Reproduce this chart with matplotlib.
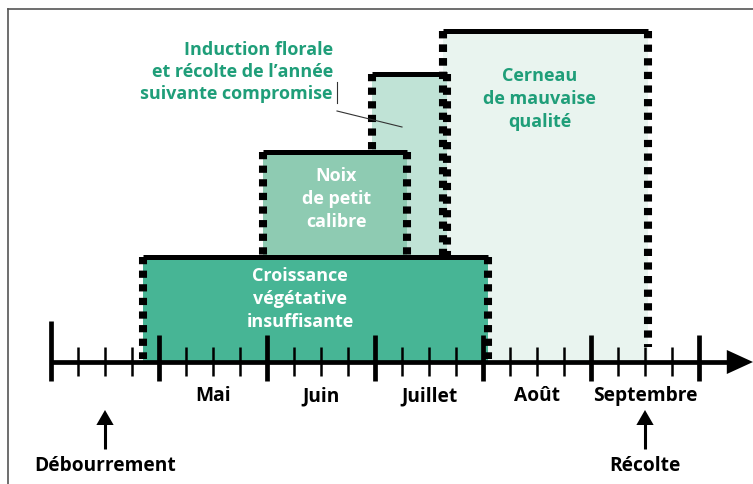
import matplotlib
matplotlib.use("Agg")
import matplotlib.pyplot as plt
from matplotlib.patches import Rectangle, Polygon
from matplotlib.lines import Line2D

plt.rcParams['lines.scale_dashes'] = False
FONT = ['Open Sans', 'DejaVu Sans']
FS = 13.8      # axis / event labels
FSB = 13.0     # box labels

# ---- data (x in weeks from 1 April; heights in arbitrary units) ----
months = ["Mai", "Juin", "Juillet", "Août", "Septembre"]
month_starts = [0, 4, 8, 12, 16, 20, 24]          # week positions of month boundaries
weeks_per_month = 4

box_labels = ["Cerneau\nde mauvaise\nqualité",
              "Induction florale\net récolte de l’année\nsuivante compromise",
              "Noix\nde petit\ncalibre",
              "Croissance\nvégétative\ninsuffisante"]
box_start = [14.5, 11.9, 7.85, 3.4]
box_end = [22.1, 14.65, 13.2, 16.2]
box_top = [331, 288, 210, 105]
box_colors = ["#e9f4ef", "#c0e3d6", "#8ecbb2", "#47b595"]

event_labels = ["Débourrement", "Récolte"]
event_weeks = [2, 22]

GREEN_TXT = "#1f9e79"

fig = plt.figure(figsize=(7.53, 4.85), dpi=100)
ax = fig.add_axes([0, 0, 1, 1])
ax.set_xlim(-51 / 27, (753 - 51) / 27)
ax.set_ylim(363 - 485, 363)
ax.axis("off")

# frame
fig.add_artist(Line2D([0.0105, 0.0105], [0, 1 - 10 / 485], transform=fig.transFigure,
                      color="#555555", lw=1.2))
fig.add_artist(Line2D([0.0105, 1], [1 - 10 / 485, 1 - 10 / 485], transform=fig.transFigure,
                      color="#555555", lw=1.2))

# boxes
side_bottom = [15, 0, 105, 3]
for i, (s, e, t, c) in enumerate(zip(box_start, box_end, box_top, box_colors)):
    z = 2 + i
    ax.add_patch(Rectangle((s, 0), e - s, t, facecolor=c, edgecolor="none", zorder=z))
    ax.plot([s, e], [t, t], color="black", lw=3.6, solid_capstyle="butt", zorder=z + 0.5)
    for xe in (s, e):
        ax.plot([xe, xe], [t, side_bottom[i]], color="black", lw=5.8,
                dashes=(5.2, 4.6), dash_capstyle="butt", zorder=z + 0.5)

# Cerneau left edge continues above Induction box
ax.plot([box_start[0], box_start[0]], [box_top[0], box_top[3]], color="black", lw=5.8,
        dashes=(5.2, 4.6), dash_capstyle="butt", zorder=3.6)

# box texts
tk = dict(fontsize=FSB, fontweight="bold", family=FONT, zorder=10)
ax.text(18.1, 264, box_labels[0], ha="center", va="center", color=GREEN_TXT,
        linespacing=1.36, **tk)
ax.text(10.44, 291, box_labels[1], ha="right", va="center", color=GREEN_TXT,
        linespacing=1.28, **tk)
ax.text(10.56, 164, box_labels[2], ha="center", va="center", color="white",
        linespacing=1.36, **tk)
ax.text(9.22, 64, box_labels[3], ha="center", va="center", color="white",
        linespacing=1.36, **tk)

# leader line and cursor mark
ax.plot([(337 - 51) / 27, (402 - 51) / 27], [363 - 112, 363 - 128], color="#333333",
        lw=0.8, zorder=10)
ax.plot([(337 - 51) / 27] * 2, [363 - 83, 363 - 104], color="#333333", lw=0.8, zorder=10)

# timeline
ax.plot([month_starts[0], 25.4], [0, 0], color="black", lw=3.4, solid_capstyle="butt", zorder=20)
ax.add_patch(Polygon([[25.03, 12], [26.0, 0], [25.03, -12]], closed=True,
                     facecolor="black", edgecolor="none", zorder=20))
for k, m in enumerate(month_starts):
    top = 41 if k == 0 else 27
    ax.plot([m, m], [top, -19], color="black", lw=3.4, solid_capstyle="butt", zorder=20)
    if k < len(month_starts) - 1:
        for j in range(1, weeks_per_month):
            w = m + j
            ax.plot([w, w], [15, -14], color="black", lw=1.8, solid_capstyle="butt", zorder=20)

for k, name in enumerate(months):
    xc = (month_starts[k + 1] + month_starts[k + 2]) / 2
    ax.text(xc, 363 - 396, name, ha="center", va="center", fontsize=FS,
            fontweight="bold", family=FONT, color="black")

# events
for lab, w in zip(event_labels, event_weeks):
    ax.plot([w, w], [363 - 450, 363 - 423], color="black", lw=2.2, solid_capstyle="butt")
    ax.add_patch(Polygon([[w - 0.32, 363 - 426], [w, 363 - 411], [w + 0.32, 363 - 426]],
                         closed=True, facecolor="black", edgecolor="none"))
    ax.text(w, 363 - 466, lab, ha="center", va="center", fontsize=FS,
            fontweight="bold", family=FONT, color="black")

fig.savefig("out.png", dpi=100)
